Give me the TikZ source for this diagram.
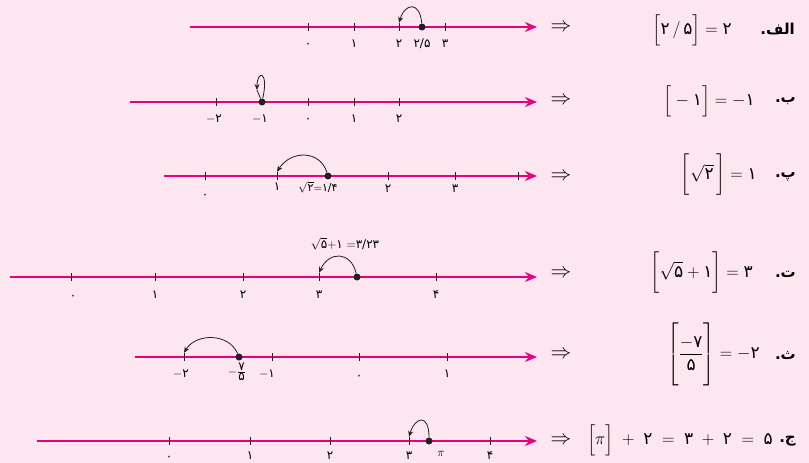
\documentclass[tikz,border=0pt]{standalone}
\usepackage{exscale}
\usepackage{fontspec}
\usetikzlibrary{positioning,arrows.meta}
\TeXXeTstate=1
\newfontfamily\arabicfont[Script=Arabic]{DejaVu Sans}
\newcommand{\fa}[1]{\mbox{\arabicfont #1}}
\definecolor{PaleRose}{RGB}{252,230,240}
\definecolor{LineMagenta}{RGB}{230,0,126}
\definecolor{Ink}{RGB}{35,31,32}

\begin{document}
\begin{tikzpicture}[
    x=1pt,y=-1pt,
    numline/.style={draw=LineMagenta,line width=1.6pt,-{Stealth[length=12pt,width=10pt]}},
    tick/.style={rectangle,fill=Ink,inner sep=0pt,minimum width=0.8pt,minimum height=8pt},
    dot/.style={circle,fill=Ink,inner sep=0pt,minimum size=7pt},
    jump/.style={draw=Ink,line width=0.8pt,-{Stealth[length=6pt,width=5pt]}},
    numlbl/.style={font=\arabicfont\fontsize{12}{14}\selectfont,inner sep=1pt,text height=9pt,text depth=0pt},
    implies/.style={font=\fontsize{20}{24}\selectfont,inner sep=1pt},
    expr/.style={font=\arabicfont\fontsize{17}{20}\selectfont,inner sep=1pt},
    item/.style={font=\arabicfont\bfseries\fontsize{15}{18}\selectfont,inner sep=1pt}
]
\fill[PaleRose] (0,0) rectangle (809,463);
\useasboundingbox (0,0) rectangle (809,463);

% Row 1: [2/5]
\coordinate (l1-s) at (190,27);
\coordinate (l1-e) at (537,27);
\draw[numline] (l1-s) -- (l1-e);
\node[tick] (l1-0) at (308,27) {};
\node[tick] (l1-1) at (354,27) {};
\node[tick] (l1-2) at (399,27) {};
\node[tick] (l1-3) at (445,27) {};
\node[dot] (l1-p) at (422,27) {};
\node[numlbl,below=6pt of l1-0] (l1-0l) {۰};
\node[numlbl,below=6pt of l1-1] (l1-1l) {۱};
\node[numlbl,below=6pt of l1-2] (l1-2l) {۲};
\node[numlbl,below=6.5pt of l1-p] (l1-pl) {۲/۵};
\node[numlbl,below=6pt of l1-3] (l1-3l) {۳};
\draw[jump] (l1-p) .. controls +(-2,-26) and +(6,-20) .. (l1-2.north);

\node[implies] (l1-imp) at (561,28) {$\Rightarrow$};
\node[expr,anchor=east] (l1-expr) at (733,30) {$\Big[\fa{۲}\,/\,\fa{۵}\Big]=\fa{۲}$};
\node[item,anchor=east] (l1-item) at (796,29) {\beginR الف.\endR};

% Row 2: [-1]
\coordinate (l2-s) at (130,102);
\coordinate (l2-e) at (537,102);
\draw[numline] (l2-s) -- (l2-e);
\node[tick] (l2-m2) at (216,102) {};
\node[tick] (l2-0) at (308,102) {};
\node[tick] (l2-1) at (354,102) {};
\node[tick] (l2-2) at (399,102) {};
\node[dot] (l2-p) at (262,102) {};
\node[numlbl,below=6pt of l2-m2,xshift=-2pt] (l2-m2l) {$-$۲};
\node[numlbl,below=6.5pt of l2-p,xshift=-2pt] (l2-pl) {$-$۱};
\node[numlbl,below=6pt of l2-0] (l2-0l) {۰};
\node[numlbl,below=6pt of l2-1] (l2-1l) {۱};
\node[numlbl,below=6pt of l2-2] (l2-2l) {۲};
\coordinate (l2-c) at (257,90);
\draw[jump] (l2-p) .. controls +(7,-32) and +(0,-20) .. (l2-c);
\draw[Ink,line width=0.8pt] (l2-c) -- (l2-p);

\node[implies] (l2-imp) at (561,101) {$\Rightarrow$};
\node[expr,anchor=east] (l2-expr) at (756,101) {$\Big[-\fa{۱}\Big]=-\fa{۱}$};
\node[item,anchor=east] (l2-item) at (797,101) {\beginR ب.\endR};

% Row 3: [sqrt 2]
\coordinate (l3-s) at (164,176);
\coordinate (l3-e) at (537,176);
\draw[numline] (l3-s) -- (l3-e);
\node[tick] (l3-0) at (205,176) {};
\node[tick] (l3-1) at (277,176) {};
\node[tick] (l3-2) at (388,176) {};
\node[tick] (l3-3) at (455,176) {};
\node[tick] (l3-4) at (518,176) {};
\node[dot] (l3-p) at (328,176) {};
\node[numlbl,below=8pt of l3-0] (l3-0l) {۰};
\node[numlbl,below=0pt of l3-1] (l3-1l) {۱};
\node[numlbl,below=1pt of l3-p,xshift=-10pt,text height=,text depth=,font=\arabicfont\fontsize{11}{13}\selectfont] (l3-pl) {$\sqrt{\fa{۲}}{=}\fa{۱/۴}$};
\node[numlbl,below=2pt of l3-2] (l3-2l) {۲};
\node[numlbl,below=2pt of l3-3] (l3-3l) {۳};
\draw[jump] (l3-p) .. controls +(-8,-26) and +(14,-22) .. (l3-1.north);

\node[implies] (l3-imp) at (561,177) {$\Rightarrow$};
\node[expr,anchor=east] (l3-expr) at (758,175) {$\bigg[\sqrt{\fa{۲}}\,\bigg]=\fa{۱}$};
\node[item,anchor=east] (l3-item) at (797,177) {\beginR پ.\endR};

% Row 4: [sqrt 5 + 1]
\coordinate (l4-s) at (10,277);
\coordinate (l4-e) at (537,277);
\draw[numline] (l4-s) -- (l4-e);
\node[tick] (l4-0) at (71,277) {};
\node[tick] (l4-1) at (155,277) {};
\node[tick] (l4-2) at (243,277) {};
\node[tick] (l4-3) at (319,277) {};
\node[tick] (l4-4) at (436,277) {};
\node[dot] (l4-p) at (357,277) {};
\node[numlbl,below=8pt of l4-0,xshift=2pt] (l4-0l) {۰};
\node[numlbl,below=7pt of l4-1] (l4-1l) {۱};
\node[numlbl,below=7pt of l4-2] (l4-2l) {۲};
\node[numlbl,below=7pt of l4-3] (l4-3l) {۳};
\node[numlbl,below=7pt of l4-4] (l4-4l) {۴};
\node[numlbl,above=22pt of l4-p,xshift=-12pt,text height=,text depth=,font=\arabicfont\fontsize{12}{14}\selectfont] (l4-pl) {$\sqrt{\fa{۵}}{+}\fa{۱}\ {=}\fa{۳/۲۳}$};
\draw[jump] (l4-p) .. controls +(-6,-26) and +(10,-22) .. (l4-3.north);

\node[implies] (l4-imp) at (561,274) {$\Rightarrow$};
\node[expr,anchor=east] (l4-expr) at (754,273) {$\bigg[\sqrt{\fa{۵}}+\fa{۱}\bigg]=\fa{۳}$};
\node[item,anchor=east] (l4-item) at (797,274) {\beginR ت.\endR};

% Row 5: [-7/5]
\coordinate (l5-s) at (135,357);
\coordinate (l5-e) at (537,357);
\draw[numline] (l5-s) -- (l5-e);
\node[tick] (l5-m2) at (184,357) {};
\node[tick] (l5-m1) at (272,357) {};
\node[tick] (l5-0) at (359,357) {};
\node[tick] (l5-1) at (447,357) {};
\node[dot] (l5-p) at (239,357) {};
\node[numlbl,below=6pt of l5-m2,xshift=-3pt] (l5-m2l) {$-$۲};
\node[numlbl,below=6pt of l5-m1,xshift=-5pt] (l5-m1l) {$-$۱};
\node[numlbl,below=8pt of l5-0] (l5-0l) {۰};
\node[numlbl,below=6pt of l5-1] (l5-1l) {۱};
\node[numlbl,below=1pt of l5-p,xshift=-2pt,text height=,text depth=,font=\arabicfont\fontsize{12}{14}\selectfont] (l5-pl) {$-\frac{\fa{۷}}{\fa{۵}}$};
\draw[jump] (l5-p) .. controls +(-10,-24) and +(12,-20) .. (l5-m2.north);

\node[implies] (l5-imp) at (561,355) {$\Rightarrow$};
\node[expr,anchor=east] (l5-expr) at (761,355) {$\left[\rule[-28pt]{0pt}{60pt}{\displaystyle\frac{-\fa{۷}}{\fa{۵}}}\right]=-\fa{۲}$};
\node[item,anchor=east] (l5-item) at (797,356) {\beginR ث.\endR};

% Row 6: [pi] + 2
\coordinate (l6-s) at (37,441);
\coordinate (l6-e) at (537,441);
\draw[numline] (l6-s) -- (l6-e);
\node[tick] (l6-0) at (169,441) {};
\node[tick] (l6-1) at (250,441) {};
\node[tick] (l6-2) at (330,441) {};
\node[tick] (l6-3) at (409,441) {};
\node[tick] (l6-4) at (490,441) {};
\node[dot] (l6-p) at (429,441) {};
\node[numlbl,below=5pt of l6-0] (l6-0l) {۰};
\node[numlbl,below=4pt of l6-1] (l6-1l) {۱};
\node[numlbl,below=4pt of l6-2] (l6-2l) {۲};
\node[numlbl,below=4pt of l6-3] (l6-3l) {۳};
\node[numlbl,below=2pt of l6-p,xshift=12pt] (l6-pl) {$\pi$};
\node[numlbl,below=4pt of l6-4] (l6-4l) {۴};
\draw[jump] (l6-p) .. controls +(0,-28) and +(6,-20) .. (l6-3.north);

\node[implies] (l6-imp) at (561,441) {$\Rightarrow$};
\node[expr,anchor=east] (l6-expr) at (774,440) {$\Big[\pi\Big]\;+\;\fa{۲}\;=\;\fa{۳}\;+\;\fa{۲}\;=\;\fa{۵}$};
\node[item,anchor=east] (l6-item) at (797,441) {\beginR ج.\endR};

\end{tikzpicture}
\end{document}
